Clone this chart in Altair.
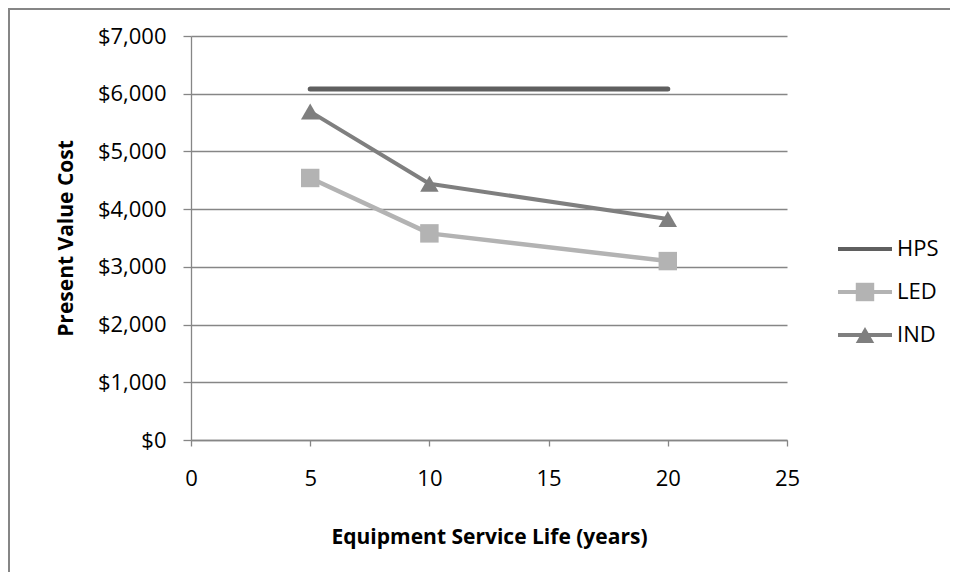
import altair as alt
import pandas as pd

series = ["HPS", "LED", "IND"]
years = [5, 10, 20]
hps = [6080, 6080, 6080]
led = [4540, 3580, 3100]
ind = [5690, 4440, 3830]
colors = ["#5f5f5f", "#b3b3b3", "#7f7f7f"]
widths = [5, 4, 4]
shapes = ["M0,0", "square", "triangle-up"]

rows = []
for name, vals in zip(series, [hps, led, ind]):
    for yr, v in zip(years, vals):
        rows.append({"series": name, "series2": name, "year": yr, "cost": v})
df = pd.DataFrame(rows)
pts = df[df["series"] != "HPS"]

FONT = "Open Sans"
LX, LY, LFS, RP = 663, 202, 22, 21

xenc = alt.X("year:Q", scale=alt.Scale(domain=[0, 25], nice=False),
             axis=alt.Axis(values=[0, 5, 10, 15, 20, 25], grid=False,
                           title="Equipment Service Life (years)", labelFlush=False,
                           tickSize=6, labelPadding=22, titlePadding=37))
yenc = alt.Y("cost:Q", scale=alt.Scale(domain=[0, 7000], nice=False),
             axis=alt.Axis(values=[0, 1000, 2000, 3000, 4000, 5000, 6000, 7000],
                           format="$,.0f", title="Present Value Cost", labelFlush=False,
                           tickSize=8, labelPadding=17, titlePadding=21))

frame = alt.Chart(pd.DataFrame({"a": [0]})).mark_rect(
    fillOpacity=0, stroke="#868686", strokeWidth=2
).encode(x=alt.value(-182), x2=alt.value(900), y=alt.value(-27), y2=alt.value(700))

lines = alt.Chart(df).mark_line(strokeCap="round", strokeJoin="round").encode(
    x=xenc, y=yenc,
    color=alt.Color("series:N", scale=alt.Scale(domain=series, range=colors),
                    legend=alt.Legend(title=None, orient="none", legendX=LX, legendY=LY,
                                      symbolType="M-3,0L3,0", symbolSize=324,
                                      symbolStrokeWidth=4, labelOffset=21,
                                      rowPadding=RP, padding=0, labelFontSize=LFS,
                                      labelFont=FONT, labelColor="#000000")),
    strokeWidth=alt.StrokeWidth("series:N", scale=alt.Scale(domain=series, range=widths),
                                legend=None),
    detail="series:N",
)

mleg = alt.Legend(title=None, orient="none", legendX=LX, legendY=LY,
                  symbolSize=340, rowPadding=RP, padding=0,
                  labelFontSize=LFS, labelFont=FONT, labelOffset=21,
                  labelOpacity=0, symbolOpacity=1, symbolStrokeWidth=0)

points = alt.Chart(pts).mark_point(filled=True, size=340, opacity=1).encode(
    x="year:Q", y="cost:Q",
    color=alt.Color("series2:N", scale=alt.Scale(domain=series, range=colors), legend=mleg),
    shape=alt.Shape("series2:N", scale=alt.Scale(domain=series, range=shapes), legend=mleg),
)

chart = alt.layer(frame, lines, points).resolve_scale(
    color="independent", shape="independent"
).properties(
    width=596, height=404,
    autosize="none",
    padding={"left": 183, "top": 28, "right": 163, "bottom": 132},
).configure_view(stroke=None).configure_axis(
    domainColor="#868686", tickColor="#868686", gridColor="#868686",
    domainWidth=1.3, tickWidth=1.3, gridWidth=1.3,
    labelFont=FONT, labelFontSize=22, labelColor="#000000",
    titleFont=FONT, titleFontSize=21, titleFontWeight="bold", titleColor="#000000",
)

chart.save("out.html", embed_options={"renderer": "svg", "actions": False})
